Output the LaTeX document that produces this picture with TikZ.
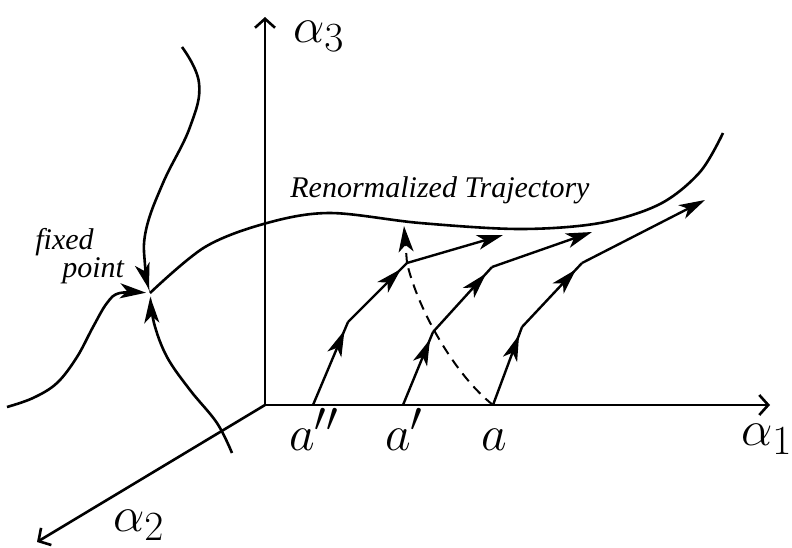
\documentclass[tikz,border=0pt]{standalone}
\usepackage{amsmath}
\usepackage{fontspec}
\usepackage{tikz}
\usetikzlibrary{arrows.meta,decorations.markings}
\newfontfamily\notefont{Liberation Serif}

\begin{document}
\begin{tikzpicture}[x=0.5pt, y=-0.5pt,
    axis/.style={line width=1.3pt, -{Straight Barb[length=4.5pt,width=10pt,line width=1.3pt]}},
    curve/.style={line width=1.3pt},
    tip/.style={-{Stealth[length=13pt,width=7.5pt,inset=3.5pt]}},
    flowseg/.style={line width=1.2pt, postaction={decorate},
        decoration={markings, mark=at position 0.9 with {\arrow{Stealth[length=13pt,width=7.5pt,inset=3.5pt]}}}},
    flowend/.style={line width=1.2pt, tip},
    lab/.style={font=\Huge, inner sep=0pt, anchor=base},
    note/.style={font=\notefont\fontsize{15}{11.5}\selectfont\itshape, inner sep=0pt}]
    \useasboundingbox (0,0) rectangle (792,547);

    % Axes
    \coordinate (O) at (265,405);
    \coordinate (e1) at (770,405);
    \coordinate (e2) at (37,542);
    \coordinate (e3) at (265,17);
    \draw[axis] (O) -- (e1);
    \draw[axis] (O) -- (e2);
    \draw[axis] (O) -- (e3);
    \node[lab, anchor=base west] (l1) at (741,445) {$\alpha_1$};
    \node[lab, anchor=base west] (l2) at (113,531) {$\alpha_2$};
    \node[lab, anchor=base west] (l3) at (293,42) {$\alpha_3$};

    % Flows into the fixed point
    \coordinate (fp) at (150,293);
    \draw[curve, tip, shorten >=2pt] plot[smooth, tension=0.7] coordinates {(182,47) (199,83) (190,127) (163,183) (146,230) (145,265) (fp)};
    \draw[curve, tip, shorten >=2pt] plot[smooth, tension=0.6] coordinates {(7,407) (33,398) (57,383) (77,357) (93,327) (107,303) (120,293) (fp)};
    \draw[curve, tip, shorten >=2pt] plot[smooth, tension=0.6] coordinates {(232,453) (217,423) (190,390) (167,357) (154,323) (fp)};
    \node[note, align=left, anchor=north west] (fplabel) at (35,228) {fixed\\\hspace*{13.5pt}point};

    % Renormalized trajectory
    \draw[curve] plot[smooth, tension=0.55] coordinates {(fp) (205,247) (267,223) (330,213) (420,223) (520,229) (600,223) (660,204) (700,172) (723,133)};
    \node[note, anchor=base west] (rt) at (290,197) {Renormalized Trajectory};

    % Flow lines from a'', a', a
    \coordinate (s2) at (313,405); \coordinate (p2) at (348,322);
    \coordinate (q2) at (407,263); \coordinate (t2) at (503,235);
    \coordinate (s1) at (403,405); \coordinate (p1) at (433,332);
    \coordinate (q1) at (492,267); \coordinate (t1) at (592,232);
    \coordinate (s0) at (493,405); \coordinate (p0) at (522,327);
    \coordinate (q0) at (582,263); \coordinate (t0) at (705,200);
    \foreach \i in {0,1,2} {
        \draw[flowseg] (s\i) -- (p\i);
        \draw[flowseg] (p\i) -- (q\i);
        \draw[flowend] (q\i) -- (t\i);
    }
    \node[lab] (a2) at (314,450) {$a''$};
    \node[lab] (a1) at (404,450) {$a'$};
    \node[lab] (a0) at (494,450) {$a$};

    % Dashed path from a
    \coordinate (up) at (404,226);
    \draw[line width=1pt, dash pattern=on 5pt off 3.5pt] (s0) .. controls (455,375) and (418,310) .. (q2);
    \draw[line width=1pt, dash pattern=on 5pt off 3.5pt, tip] (q2) -- (up);
\end{tikzpicture}
\end{document}
